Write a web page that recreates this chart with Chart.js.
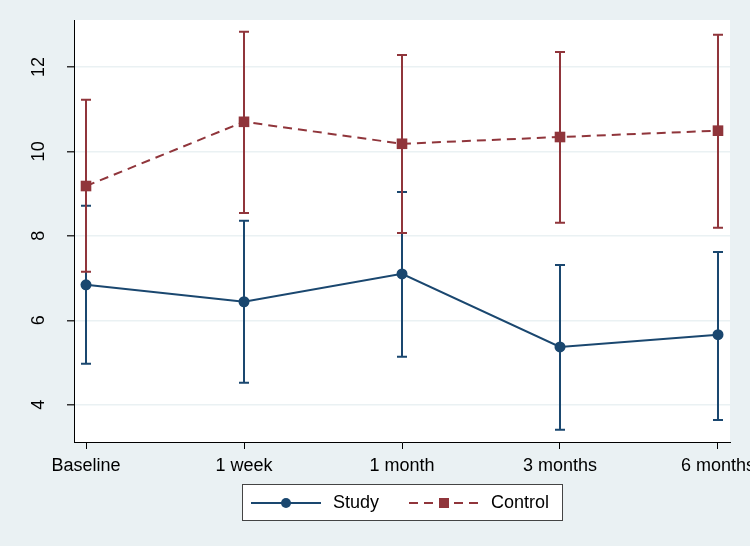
<!DOCTYPE html>
<html>
<head>
<meta charset="utf-8">
<script src="https://cdn.jsdelivr.net/npm/chart.js@4/dist/chart.umd.min.js"></script>
<style>
  body { margin: 0; background: #eaf1f3; }
  canvas { display: block; }
</style>
</head>
<body>
<canvas id="graph" width="750" height="546"></canvas>
<script>
// Données
const periodes = ['Baseline', '1 week', '1 month', '3 months', '6 months'];
const studyMoy = [6.84, 6.44, 7.10, 5.37, 5.66];
const studyBas = [4.97, 4.52, 5.14, 3.41, 3.64];
const studyHaut = [8.71, 8.36, 9.04, 7.31, 7.62];
const controlMoy = [9.18, 10.70, 10.18, 10.34, 10.49];
const controlBas = [7.15, 8.54, 8.07, 8.31, 8.19];
const controlHaut = [11.22, 12.83, 12.28, 12.35, 12.76];
const yTicks = [4, 6, 8, 10, 12];

const bleu = '#1a476f';
const rouge = '#90353b';
const fond = '#eaf1f3';
const police = '"Liberation Sans", Arial, sans-serif';

const points = arr => arr.map((v, i) => ({ x: i, y: v }));

// Fond + zone blanche du graphique
const fondPlugin = {
    id: 'fond',
    beforeDraw(chart) {
        const { ctx, chartArea: a } = chart;
        ctx.save();
        ctx.fillStyle = fond;
        ctx.fillRect(0, 0, chart.width, chart.height);
        ctx.fillStyle = '#fff';
        ctx.fillRect(a.left, a.top, a.right - a.left, a.bottom - a.top);
        ctx.restore();
    }
};

// Barres d'erreur
const barresPlugin = {
    id: 'barres',
    beforeDatasetsDraw(chart) {
        const { ctx, scales } = chart;
        const series = [
            { bas: studyBas, haut: studyHaut, couleur: bleu },
            { bas: controlBas, haut: controlHaut, couleur: rouge }
        ];
        ctx.save();
        ctx.lineWidth = 2;
        series.forEach(s => {
            ctx.strokeStyle = s.couleur;
            s.bas.forEach((b, i) => {
                const x = scales.x.getPixelForValue(i);
                const y1 = scales.y.getPixelForValue(b);
                const y2 = scales.y.getPixelForValue(s.haut[i]);
                ctx.beginPath();
                ctx.moveTo(x, y1); ctx.lineTo(x, y2);
                ctx.moveTo(x - 5, y1); ctx.lineTo(x + 5, y1);
                ctx.moveTo(x - 5, y2); ctx.lineTo(x + 5, y2);
                ctx.stroke();
            });
        });
        ctx.restore();
    }
};

// Étiquettes verticales de l'axe Y + légende
const textesPlugin = {
    id: 'textes',
    afterDraw(chart) {
        const { ctx, scales } = chart;
        ctx.save();
        ctx.fillStyle = '#000';
        ctx.font = '18px ' + police;
        ctx.textAlign = 'center';
        ctx.textBaseline = 'middle';
        yTicks.forEach(t => {
            const y = scales.y.getPixelForValue(t);
            ctx.save();
            ctx.translate(39, y);
            ctx.rotate(-Math.PI / 2);
            ctx.fillText(String(t), 0, 0);
            ctx.restore();
        });

        // Légende
        const lx = 242, ly = 484, lw = 320, lh = 36;
        ctx.fillStyle = '#fff';
        ctx.fillRect(lx, ly, lw, lh);
        ctx.strokeStyle = '#444';
        ctx.lineWidth = 1;
        ctx.strokeRect(lx + 0.5, ly + 0.5, lw, lh);
        const cy = ly + lh / 2 + 1;
        chart.data.datasets.forEach((ds, k) => {
            const x0 = k === 0 ? 251 : 409;
            ctx.strokeStyle = ds.borderColor;
            ctx.lineWidth = 2;
            ctx.setLineDash(ds.borderDash || []);
            ctx.beginPath();
            ctx.moveTo(x0, cy); ctx.lineTo(x0 + 70, cy);
            ctx.stroke();
            ctx.setLineDash([]);
            ctx.fillStyle = ds.borderColor;
            if (ds.pointStyle === 'rect') {
                ctx.fillRect(x0 + 35 - 5, cy - 5, 10, 10);
            } else {
                ctx.beginPath();
                ctx.arc(x0 + 35, cy, 5, 0, Math.PI * 2);
                ctx.fill();
            }
            ctx.fillStyle = '#000';
            ctx.textAlign = 'left';
            ctx.fillText(ds.label, x0 + 82, cy);
        });
        ctx.restore();
    }
};

new Chart(document.getElementById('graph'), {
    type: 'line',
    data: {
        datasets: [
            {
                label: 'Study',
                data: points(studyMoy),
                borderColor: bleu,
                backgroundColor: bleu,
                borderWidth: 2,
                pointStyle: 'circle',
                pointRadius: 5.5,
                pointBorderWidth: 0,
                tension: 0
            },
            {
                label: 'Control',
                data: points(controlMoy),
                borderColor: rouge,
                backgroundColor: rouge,
                borderWidth: 2,
                borderDash: [9, 6],
                pointStyle: 'rect',
                pointRadius: 7.5,
                pointBorderWidth: 0,
                tension: 0
            }
        ]
    },
    plugins: [fondPlugin, barresPlugin, textesPlugin],
    options: {
        responsive: false,
        animation: false,
        layout: { padding: { left: 0, top: 20, right: 20, bottom: 0 } },
        plugins: {
            legend: { display: false },
            tooltip: { enabled: false }
        },
        scales: {
            x: {
                type: 'linear',
                min: -0.076,
                max: 4.076,
                afterBuildTicks: s => { s.ticks = periodes.map((p, i) => ({ value: i })); },
                afterFit: s => { s.height = 104; s.paddingLeft = 0; s.paddingRight = 0; },
                grid: { display: true, drawOnChartArea: false, tickLength: 7, tickColor: '#000', lineWidth: 1 },
                border: { display: true, color: '#000', width: 1 },
                ticks: {
                    color: '#000',
                    font: { size: 18, family: police },
                    padding: 6,
                    maxRotation: 0,
                    callback: v => periodes[v]
                }
            },
            y: {
                min: 3.12,
                max: 13.11,
                afterBuildTicks: s => { s.ticks = yTicks.map(v => ({ value: v })); },
                afterFit: s => { s.width = 74; },
                grid: { color: fond, lineWidth: 1.5, tickLength: 7, tickColor: '#333' },
                border: { display: true, color: '#000', width: 1 },
                ticks: { display: false }
            }
        }
    }
});
</script>
</body>
</html>
